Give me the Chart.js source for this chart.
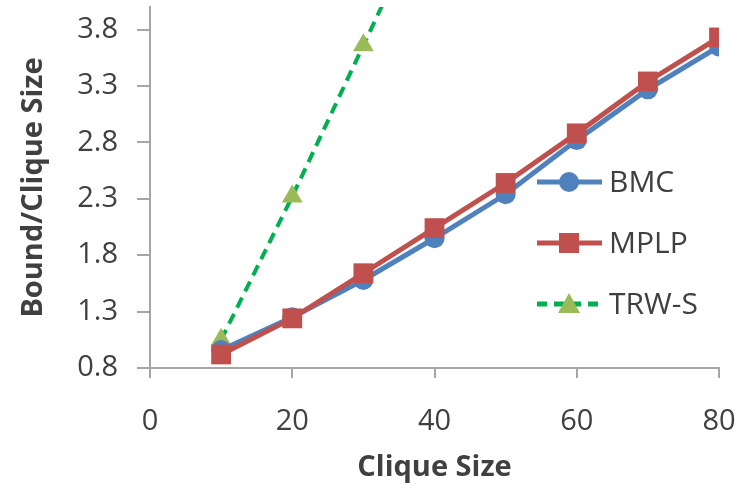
<!DOCTYPE html>
<html>
<head>
<meta charset="utf-8">
<script src="https://cdn.jsdelivr.net/npm/chart.js@4"></script>
<style>
  html, body { margin: 0; padding: 0; background: #fff; }
  #wrap { width: 746px; height: 493px; }
</style>
</head>
<body>
<div id="wrap"><canvas id="chart" width="746" height="493"></canvas></div>
<script>
const cliqueSizes = [10, 20, 30, 40, 50, 60, 70, 80];
const bmcValues = [0.96, 1.25, 1.58, 1.95, 2.34, 2.82, 3.27, 3.65];
const mplpValues = [0.92, 1.24, 1.64, 2.04, 2.44, 2.88, 3.34, 3.73];
const trwsSizes = [10, 20, 30, 40];
const trwsValues = [1.05, 2.32, 3.66, 5.0];
const xTicks = [0, 20, 40, 60, 80];
const yTicks = [0.8, 1.3, 1.8, 2.3, 2.8, 3.3, 3.8];

const axisGray = '#a6a6a6';
const textGray = '#404040';

function pts(xs, ys) {
    return xs.map((x, i) => ({x: x, y: ys[i]}));
}

const series = [
    {label: 'BMC', color: '#4f81bd', point: 'circle', dash: []},
    {label: 'MPLP', color: '#c0504d', point: 'rect', dash: []},
    {label: 'TRW-S', color: '#00b050', pointColor: '#9bbb59', point: 'triangle', dash: [11, 7]}
];

// legend drawn inside the plot, on the right
const sideLegend = {
    id: 'sideLegend',
    afterDraw(chart) {
        const ctx = chart.ctx;
        const rows = [182, 243, 304];
        ctx.save();
        series.forEach((s, i) => {
            const y = rows[i];
            ctx.strokeStyle = s.color;
            ctx.lineWidth = 5;
            ctx.setLineDash(s.dash.length ? [10, 7] : []);
            ctx.beginPath();
            ctx.moveTo(537, y);
            ctx.lineTo(602, y);
            ctx.stroke();
            ctx.setLineDash([]);
            ctx.fillStyle = s.pointColor || s.color;
            ctx.beginPath();
            if (s.point === 'circle') {
                ctx.arc(569, y, 10, 0, Math.PI * 2);
            } else if (s.point === 'rect') {
                ctx.rect(559, y - 10, 20, 20);
            } else {
                ctx.moveTo(569, y - 11);
                ctx.lineTo(580, y + 9);
                ctx.lineTo(558, y + 9);
                ctx.closePath();
            }
            ctx.fill();
            ctx.fillStyle = textGray;
            ctx.font = '30px "Open Sans"';
            ctx.textBaseline = 'middle';
            ctx.fillText(s.label, 609, y + 1);
        });
        ctx.restore();
    }
};

new Chart(document.getElementById('chart').getContext('2d'), {
    type: 'line',
    data: {
        datasets: [{
            label: 'BMC',
            data: pts(cliqueSizes, bmcValues),
            borderColor: series[0].color,
            backgroundColor: series[0].color,
            borderWidth: 5,
            pointStyle: 'circle',
            pointRadius: 10,
            pointBorderWidth: 0,
            order: 2
        }, {
            label: 'MPLP',
            data: pts(cliqueSizes, mplpValues),
            borderColor: series[1].color,
            backgroundColor: series[1].color,
            borderWidth: 5,
            pointStyle: 'rect',
            pointRadius: 14,
            pointBorderWidth: 0,
            order: 1
        }, {
            label: 'TRW-S',
            data: pts(trwsSizes, trwsValues),
            borderColor: series[2].color,
            backgroundColor: series[2].pointColor,
            borderWidth: 4,
            borderDash: series[2].dash,
            pointStyle: 'triangle',
            pointRadius: 12,
            pointBorderWidth: 0,
            order: 3
        }]
    },
    options: {
        responsive: false,
        animation: false,
        layout: {autoPadding: false, padding: {top: 7, right: 27, left: 0, bottom: 0}},
        plugins: {legend: {display: false}, tooltip: {enabled: false}},
        scales: {
            x: {
                type: 'linear',
                min: 0,
                max: 80,
                afterBuildTicks: s => { s.ticks = xTicks.map(v => ({value: v})); },
                afterFit: s => { s.height = 125; s.paddingLeft = 0; s.paddingRight = 0; },
                grid: {drawOnChartArea: false, color: axisGray, lineWidth: 2, tickLength: 10},
                border: {color: axisGray, width: 2},
                ticks: {color: textGray, font: {family: 'Open Sans', size: 29}, padding: 26},
                title: {
                    display: true,
                    text: 'Clique Size',
                    color: textGray,
                    font: {family: 'Open Sans', size: 29, weight: 'bold'},
                    padding: {top: 9, bottom: 8}
                }
            },
            y: {
                min: 0.8,
                max: 4.0,
                afterBuildTicks: s => { s.ticks = yTicks.map(v => ({value: v})); },
                afterFit: s => { s.width = 150; s.paddingTop = 0; s.paddingBottom = 0; },
                grid: {drawOnChartArea: false, color: axisGray, lineWidth: 2, tickLength: 13},
                border: {color: axisGray, width: 2},
                ticks: {color: textGray, font: {family: 'Open Sans', size: 29}, padding: 19,
                        callback: v => v.toFixed(1)},
                title: {
                    display: true,
                    text: 'Bound/Clique Size',
                    color: textGray,
                    font: {family: 'Open Sans', size: 29, weight: 'bold'},
                    padding: {top: 16, bottom: 0}
                }
            }
        }
    },
    plugins: [sideLegend]
});
</script>
</body>
</html>
